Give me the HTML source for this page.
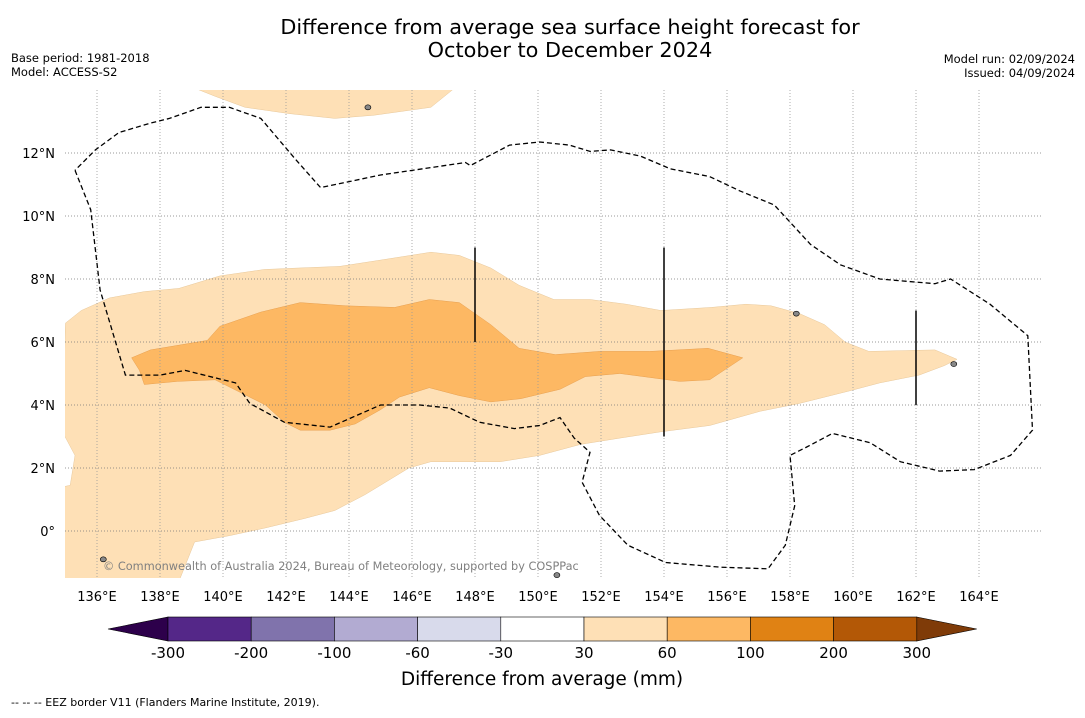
<!DOCTYPE html>
<html><head><meta charset="utf-8"><style>
body{margin:0;background:#fff;font-family:"Liberation Sans","DejaVu Sans",sans-serif;}
svg text{font-family:"DejaVu Sans","Liberation Sans",sans-serif;}
</style></head><body>
<svg id="c" width="1085" height="713" viewBox="0 0 1085 713" xmlns="http://www.w3.org/2000/svg">
<text x="570" y="34" font-size="20.8" text-anchor="middle">Difference from average sea surface height forecast for</text>
<text x="570" y="57" font-size="20.8" text-anchor="middle">October to December 2024</text>
<text x="11" y="62" font-size="11.5">Base period: 1981-2018</text>
<text x="11" y="76" font-size="11.5">Model: ACCESS-S2</text>
<text x="1075" y="63" font-size="11.5" text-anchor="end">Model run: 02/09/2024</text>
<text x="1075" y="77" font-size="11.5" text-anchor="end">Issued: 04/09/2024</text>
<defs><clipPath id="mapclip"><rect x="65" y="90" width="977" height="488"/></clipPath></defs>
<g id="map" clip-path="url(#mapclip)"></g>
<g id="axes"></g>
<text x="103" y="570" font-size="11.3" fill="#808080">© Commonwealth of Australia 2024, Bureau of Meteorology, supported by COSPPac</text>
<g id="cbar"></g>
<text x="542" y="685" font-size="18.5" text-anchor="middle">Difference from average (mm)</text>
<text x="11" y="706" font-size="11">--  --  -- EEZ border V11 (Flanders Marine Institute, 2019).</text>
</svg>
<script>
const lonTicks=[136,138,140,142,144,146,148,150,152,154,156,158,160,162,164];
const latTicks=[0,2,4,6,8,10,12];
const lightBand=[[135.0,6.6],[135.5,7.0],[136.4,7.4],[137.5,7.6],[138.6,7.7],[139.9,8.1],[141.3,8.3],[142.4,8.35],[143.7,8.4],[145.0,8.6],[146.6,8.85],[147.5,8.75],[148.5,8.35],[149.4,7.8],[150.5,7.35],[151.65,7.35],[152.8,7.2],[153.9,7.0],[155.5,7.1],[156.6,7.2],[157.4,7.15],[158.3,6.9],[159.1,6.55],[159.75,6.0],[160.5,5.7],[162.6,5.75],[163.3,5.45],[162.9,5.25],[162.1,4.95],[160.85,4.7],[159.9,4.45],[158.3,4.05],[157.05,3.8],[155.45,3.35],[153.9,3.15],[152.6,2.95],[151.35,2.75],[150.05,2.4],[148.8,2.2],[146.6,2.2],[145.9,2.0],[145.0,1.45],[144.5,1.15],[143.55,0.65],[142.6,0.4],[141.35,0.1],[140.2,-0.15],[139.1,-0.35],[138.6,-1.6],[134.9,-1.6],[134.9,1.4],[135.15,1.45],[135.3,2.4],[134.9,3.15]];
const topBand=[[139.0,14.1],[139.75,13.8],[140.7,13.45],[142.1,13.25],[143.55,13.1],[144.8,13.2],[146.6,13.45],[147.4,14.1]];
const darkBand=[[137.1,5.5],[137.7,5.75],[139.5,6.05],[139.9,6.5],[141.2,6.95],[142.45,7.25],[143.9,7.15],[145.45,7.1],[146.55,7.35],[147.5,7.25],[148.5,6.55],[149.4,5.8],[150.55,5.6],[151.95,5.7],[153.55,5.7],[155.4,5.8],[156.5,5.5],[155.45,4.8],[154.5,4.75],[152.6,5.0],[151.5,4.9],[150.7,4.5],[149.45,4.2],[148.5,4.1],[147.5,4.3],[146.55,4.55],[145.6,4.25],[145.0,3.85],[144.2,3.4],[143.4,3.2],[142.45,3.2],[141.95,3.45],[141.35,4.0],[140.55,4.4],[139.75,4.8],[138.55,4.75],[137.5,4.65],[137.35,5.1]];
const eez=[[135.3,11.45],[135.8,10.2],[136.1,7.65],[136.9,4.95],[138.0,4.95],[138.8,5.1],[140.4,4.7],[140.85,4.05],[141.95,3.45],[143.4,3.3],[145.0,4.0],[146.25,4.0],[147.2,3.9],[148.15,3.45],[149.25,3.25],[150.05,3.35],[150.7,3.6],[151.15,2.95],[151.65,2.5],[151.4,1.55],[151.95,0.5],[152.85,-0.45],[154.05,-1.0],[155.8,-1.15],[157.3,-1.2],[157.85,-0.45],[158.15,0.8],[158.0,2.4],[158.5,2.65],[159.35,3.1],[160.55,2.8],[161.5,2.2],[162.75,1.9],[163.85,1.95],[165.0,2.4],[165.7,3.2],[165.55,6.2],[164.35,7.2],[163.1,8.0],[162.6,7.85],[160.85,8.0],[159.6,8.45],[158.65,9.1],[157.5,10.35],[156.4,10.8],[155.45,11.25],[154.2,11.5],[153.25,11.9],[152.3,12.1],[151.65,12.05],[151.0,12.25],[150.05,12.35],[149.1,12.25],[147.85,11.6],[147.7,11.7],[145.0,11.3],[143.1,10.9],[142.3,11.8],[141.2,13.1],[140.2,13.45],[139.3,13.45],[138.3,13.1],[137.7,12.95],[136.7,12.65],[135.95,12.1],[135.3,11.45]];
const boundaryLon=[148,154,162];
const boundaryLat=[[6,9],[3,9],[4,7]];
const islands=[[144.6,13.45],[136.2,-0.9],[158.2,6.9],[163.2,5.3],[150.6,-1.4]];
const cbLabels=["-300","-200","-100","-60","-30","30","60","100","200","300"];
const cbColors=["#542788","#8073ac","#b2abd2","#d8daeb","#ffffff","#fee0b6","#fdb863","#e08214","#b35806"];
const NS="http://www.w3.org/2000/svg";
const X=lon=>97+(lon-136)*31.5, Y=lat=>531-lat*31.5;
function mk(tag,attrs,parent){const e=document.createElementNS(NS,tag);for(const k in attrs)e.setAttribute(k,attrs[k]);parent.appendChild(e);return e;}
const map=document.getElementById('map'),axes=document.getElementById('axes'),cb=document.getElementById('cbar');
const pts=a=>a.map(p=>X(p[0]).toFixed(1)+','+Y(p[1]).toFixed(1)).join(' ');
let e;
e=mk('polygon',{points:pts(lightBand),fill:'#fee0b6',stroke:'#e8c89a','stroke-width':0.5},map);

e=mk('polygon',{points:pts(topBand),fill:'#fee0b6',stroke:'#e8c89a','stroke-width':0.5},map);

e=mk('polygon',{points:pts(darkBand),fill:'#fdb863',stroke:'#e8a050','stroke-width':0.5},map);

lonTicks.forEach(l=>{const g=mk('line',{x1:X(l),x2:X(l),y1:90,y2:578,stroke:'#999','stroke-width':0.8,'stroke-dasharray':'1,2'},map);

const t=mk('text',{x:X(l),y:601,'font-size':13,'text-anchor':'middle'},axes);t.textContent=l+'°E';
});
latTicks.forEach(l=>{const g=mk('line',{x1:65,x2:1042,y1:Y(l),y2:Y(l),stroke:'#777','stroke-width':0.8,'stroke-dasharray':'1,2'},map);

const t=mk('text',{x:55,y:Y(l)+5,'font-size':13,'text-anchor':'end'},axes);t.textContent=l===0?'0°':l+'°N';
});
e=mk('polyline',{points:pts(eez),fill:'none',stroke:'#000','stroke-width':1.3,'stroke-dasharray':'5,3'},map);

boundaryLon.forEach((l,i)=>{const b=mk('line',{x1:X(l),x2:X(l),y1:Y(boundaryLat[i][0]),y2:Y(boundaryLat[i][1]),stroke:'#000','stroke-width':1.5},map);
});
islands.forEach(p=>{const s=mk('ellipse',{cx:X(p[0]),cy:Y(p[1]),rx:3,ry:2.5,fill:'#888',stroke:'#000','stroke-width':0.6},map);
});
const cx0=168,cw=83.2,cy=617,ch=24;
e=mk('polygon',{points:`108,${cy+ch/2} ${cx0},${cy} ${cx0},${cy+ch}`,fill:'#2d004b',stroke:'#000','stroke-width':0.6},cb);

cbColors.forEach((c,i)=>{const r=mk('rect',{x:cx0+i*cw,y:cy,width:cw,height:ch,fill:c,stroke:'#000','stroke-width':0.6},cb);
});
const xe=cx0+cbColors.length*cw;
e=mk('polygon',{points:`${xe},${cy} ${xe+60},${cy+ch/2} ${xe},${cy+ch}`,fill:'#7f3b08',stroke:'#000','stroke-width':0.6},cb);

cbLabels.forEach((s,i)=>{const t=mk('text',{x:cx0+i*cw,y:658,'font-size':15,'text-anchor':'middle'},cb);t.textContent=s;
});
</script>
</body></html>
